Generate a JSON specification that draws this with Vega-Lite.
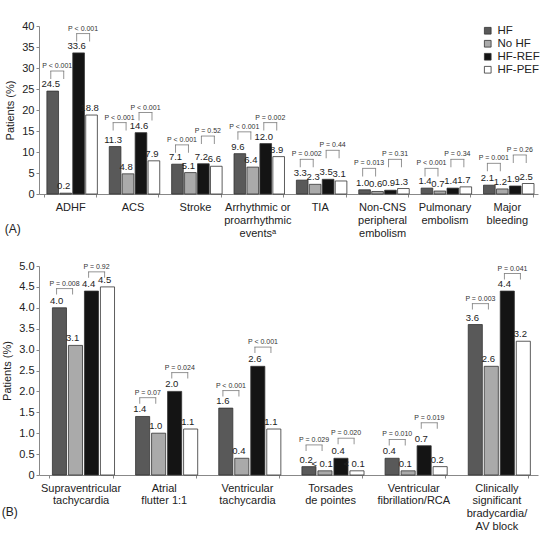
{
  "$schema": "https://vega.github.io/schema/vega-lite/v6.json",
  "padding": {"left": 1, "top": 20, "right": 2, "bottom": 0},
  "spacing": 22,
  "datasets": {
    "barsA": [
      {"cat": "ADHF", "group": "HF", "pct": 24.5, "label": "24.5"},
      {"cat": "ADHF", "group": "No HF", "pct": 0.2, "label": "0.2"},
      {"cat": "ADHF", "group": "HF-REF", "pct": 33.6, "label": "33.6"},
      {"cat": "ADHF", "group": "HF-PEF", "pct": 18.8, "label": "18.8"},
      {"cat": "ACS", "group": "HF", "pct": 11.3, "label": "11.3"},
      {"cat": "ACS", "group": "No HF", "pct": 4.8, "label": "4.8"},
      {"cat": "ACS", "group": "HF-REF", "pct": 14.6, "label": "14.6"},
      {"cat": "ACS", "group": "HF-PEF", "pct": 7.9, "label": "7.9"},
      {"cat": "Stroke", "group": "HF", "pct": 7.1, "label": "7.1"},
      {"cat": "Stroke", "group": "No HF", "pct": 5.1, "label": "5.1"},
      {"cat": "Stroke", "group": "HF-REF", "pct": 7.2, "label": "7.2"},
      {"cat": "Stroke", "group": "HF-PEF", "pct": 6.6, "label": "6.6"},
      {"cat": "Arrhythmic or|proarrhythmic|eventsᵃ", "group": "HF", "pct": 9.6, "label": "9.6"},
      {"cat": "Arrhythmic or|proarrhythmic|eventsᵃ", "group": "No HF", "pct": 6.4, "label": "6.4"},
      {"cat": "Arrhythmic or|proarrhythmic|eventsᵃ", "group": "HF-REF", "pct": 12.0, "label": "12.0"},
      {"cat": "Arrhythmic or|proarrhythmic|eventsᵃ", "group": "HF-PEF", "pct": 8.9, "label": "8.9"},
      {"cat": "TIA", "group": "HF", "pct": 3.3, "label": "3.3"},
      {"cat": "TIA", "group": "No HF", "pct": 2.3, "label": "2.3"},
      {"cat": "TIA", "group": "HF-REF", "pct": 3.5, "label": "3.5"},
      {"cat": "TIA", "group": "HF-PEF", "pct": 3.1, "label": "3.1"},
      {"cat": "Non-CNS|peripheral|embolism", "group": "HF", "pct": 1.0, "label": "1.0"},
      {"cat": "Non-CNS|peripheral|embolism", "group": "No HF", "pct": 0.6, "label": "0.6"},
      {"cat": "Non-CNS|peripheral|embolism", "group": "HF-REF", "pct": 0.9, "label": "0.9"},
      {"cat": "Non-CNS|peripheral|embolism", "group": "HF-PEF", "pct": 1.3, "label": "1.3"},
      {"cat": "Pulmonary|embolism", "group": "HF", "pct": 1.4, "label": "1.4"},
      {"cat": "Pulmonary|embolism", "group": "No HF", "pct": 0.7, "label": "0.7"},
      {"cat": "Pulmonary|embolism", "group": "HF-REF", "pct": 1.4, "label": "1.4"},
      {"cat": "Pulmonary|embolism", "group": "HF-PEF", "pct": 1.7, "label": "1.7"},
      {"cat": "Major|bleeding", "group": "HF", "pct": 2.1, "label": "2.1"},
      {"cat": "Major|bleeding", "group": "No HF", "pct": 1.2, "label": "1.2"},
      {"cat": "Major|bleeding", "group": "HF-REF", "pct": 1.9, "label": "1.9"},
      {"cat": "Major|bleeding", "group": "HF-PEF", "pct": 2.5, "label": "2.5"}
    ],
    "bracketsA": [
      {"cat": "ADHF", "from": "HF", "to": "No HF", "pct": 29.3, "p": "P < 0.001"},
      {"cat": "ADHF", "from": "HF-REF", "to": "HF-PEF", "pct": 38.2, "p": "P < 0.001"},
      {"cat": "ACS", "from": "HF", "to": "No HF", "pct": 17.0, "p": "P < 0.001"},
      {"cat": "ACS", "from": "HF-REF", "to": "HF-PEF", "pct": 19.4, "p": "P < 0.001"},
      {"cat": "Stroke", "from": "HF", "to": "No HF", "pct": 11.7, "p": "P < 0.001"},
      {"cat": "Stroke", "from": "HF-REF", "to": "HF-PEF", "pct": 13.8, "p": "P = 0.52"},
      {"cat": "Arrhythmic or|proarrhythmic|eventsᵃ", "from": "HF", "to": "No HF", "pct": 14.8, "p": "P < 0.001"},
      {"cat": "Arrhythmic or|proarrhythmic|eventsᵃ", "from": "HF-REF", "to": "HF-PEF", "pct": 17.0, "p": "P = 0.002"},
      {"cat": "TIA", "from": "HF", "to": "No HF", "pct": 8.25, "p": "P = 0.002"},
      {"cat": "TIA", "from": "HF-REF", "to": "HF-PEF", "pct": 10.4, "p": "P = 0.44"},
      {"cat": "Non-CNS|peripheral|embolism", "from": "HF", "to": "No HF", "pct": 6.1, "p": "P = 0.013"},
      {"cat": "Non-CNS|peripheral|embolism", "from": "HF-REF", "to": "HF-PEF", "pct": 8.25, "p": "P = 0.31"},
      {"cat": "Pulmonary|embolism", "from": "HF", "to": "No HF", "pct": 6.1, "p": "P < 0.001"},
      {"cat": "Pulmonary|embolism", "from": "HF-REF", "to": "HF-PEF", "pct": 8.25, "p": "P = 0.34"},
      {"cat": "Major|bleeding", "from": "HF", "to": "No HF", "pct": 7.3, "p": "P = 0.001"},
      {"cat": "Major|bleeding", "from": "HF-REF", "to": "HF-PEF", "pct": 9.3, "p": "P = 0.26"}
    ],
    "barsB": [
      {"cat": "Supraventricular|tachycardia", "group": "HF", "pct": 4.0, "label": "4.0"},
      {"cat": "Supraventricular|tachycardia", "group": "No HF", "pct": 3.1, "label": "3.1"},
      {"cat": "Supraventricular|tachycardia", "group": "HF-REF", "pct": 4.4, "label": "4.4"},
      {"cat": "Supraventricular|tachycardia", "group": "HF-PEF", "pct": 4.5, "label": "4.5"},
      {"cat": "Atrial|flutter 1:1", "group": "HF", "pct": 1.4, "label": "1.4"},
      {"cat": "Atrial|flutter 1:1", "group": "No HF", "pct": 1.0, "label": "1.0"},
      {"cat": "Atrial|flutter 1:1", "group": "HF-REF", "pct": 2.0, "label": "2.0"},
      {"cat": "Atrial|flutter 1:1", "group": "HF-PEF", "pct": 1.1, "label": "1.1"},
      {"cat": "Ventricular|tachycardia", "group": "HF", "pct": 1.6, "label": "1.6"},
      {"cat": "Ventricular|tachycardia", "group": "No HF", "pct": 0.4, "label": "0.4"},
      {"cat": "Ventricular|tachycardia", "group": "HF-REF", "pct": 2.6, "label": "2.6"},
      {"cat": "Ventricular|tachycardia", "group": "HF-PEF", "pct": 1.1, "label": "1.1"},
      {"cat": "Torsades|de pointes", "group": "HF", "pct": 0.2, "label": "0.2"},
      {"cat": "Torsades|de pointes", "group": "No HF", "pct": 0.1, "label": "< 0.1"},
      {"cat": "Torsades|de pointes", "group": "HF-REF", "pct": 0.4, "label": "0.4"},
      {"cat": "Torsades|de pointes", "group": "HF-PEF", "pct": 0.1, "label": "< 0.1"},
      {"cat": "Ventricular|fibrillation/RCA", "group": "HF", "pct": 0.4, "label": "0.4"},
      {"cat": "Ventricular|fibrillation/RCA", "group": "No HF", "pct": 0.1, "label": "0.1"},
      {"cat": "Ventricular|fibrillation/RCA", "group": "HF-REF", "pct": 0.7, "label": "0.7"},
      {"cat": "Ventricular|fibrillation/RCA", "group": "HF-PEF", "pct": 0.2, "label": "0.2"},
      {"cat": "Clinically|significant|bradycardia/|AV block", "group": "HF", "pct": 3.6, "label": "3.6"},
      {"cat": "Clinically|significant|bradycardia/|AV block", "group": "No HF", "pct": 2.6, "label": "2.6"},
      {"cat": "Clinically|significant|bradycardia/|AV block", "group": "HF-REF", "pct": 4.4, "label": "4.4"},
      {"cat": "Clinically|significant|bradycardia/|AV block", "group": "HF-PEF", "pct": 3.2, "label": "3.2"}
    ],
    "bracketsB": [
      {"cat": "Supraventricular|tachycardia", "from": "HF", "to": "No HF", "pct": 4.46, "p": "P = 0.008"},
      {"cat": "Supraventricular|tachycardia", "from": "HF-REF", "to": "HF-PEF", "pct": 4.86, "p": "P = 0.92"},
      {"cat": "Atrial|flutter 1:1", "from": "HF", "to": "No HF", "pct": 1.85, "p": "P = 0.07"},
      {"cat": "Atrial|flutter 1:1", "from": "HF-REF", "to": "HF-PEF", "pct": 2.45, "p": "P = 0.024"},
      {"cat": "Ventricular|tachycardia", "from": "HF", "to": "No HF", "pct": 2.02, "p": "P < 0.001"},
      {"cat": "Ventricular|tachycardia", "from": "HF-REF", "to": "HF-PEF", "pct": 3.06, "p": "P < 0.001"},
      {"cat": "Torsades|de pointes", "from": "HF", "to": "No HF", "pct": 0.72, "p": "P = 0.029"},
      {"cat": "Torsades|de pointes", "from": "HF-REF", "to": "HF-PEF", "pct": 0.88, "p": "P = 0.020"},
      {"cat": "Ventricular|fibrillation/RCA", "from": "HF", "to": "No HF", "pct": 0.85, "p": "P = 0.010"},
      {"cat": "Ventricular|fibrillation/RCA", "from": "HF-REF", "to": "HF-PEF", "pct": 1.25, "p": "P = 0.019"},
      {"cat": "Clinically|significant|bradycardia/|AV block", "from": "HF", "to": "No HF", "pct": 4.10, "p": "P = 0.003"},
      {"cat": "Clinically|significant|bradycardia/|AV block", "from": "HF-REF", "to": "HF-PEF", "pct": 4.82, "p": "P = 0.041"}
    ]
  },
  "resolve": {"scale": {"color": "independent", "x": "independent", "y": "independent", "xOffset": "independent"}},
  "vconcat": [
    {
      "width": 499,
      "height": 168,
      "title": {"text": "(A)", "orient": "bottom", "anchor": "start", "frame": "bounds", "offset": -14, "fontSize": 12, "fontWeight": "normal", "color": "#222"},
      "encoding": {
        "x": {"field": "cat", "type": "nominal",
          "scale": {"domain": ["ADHF", "ACS", "Stroke", "Arrhythmic or|proarrhythmic|eventsᵃ", "TIA", "Non-CNS|peripheral|embolism", "Pulmonary|embolism", "Major|bleeding"], "paddingInner": 0.17, "paddingOuter": 0.085},
          "axis": {"title": null, "labelAngle": 0, "labelExpr": "split(datum.label, '|')", "labelFontSize": 11, "labelLineHeight": 13, "tickBand": "extent", "labelPadding": 4, "tickSize": 3, "domain": true}
        },
        "y": {"field": "pct", "type": "quantitative", "scale": {"domain": [0, 40]},
          "axis": {"title": "Patients (%)", "values": [0, 5, 10, 15, 20, 25, 30, 35, 40], "tickSize": 3, "labelPadding": 2, "titlePadding": 6, "domain": true}}
      },
      "layer": [
        {
          "data": {"name": "barsA"},
          "mark": {"type": "bar", "width": {"band": 0.9}, "stroke": "#333", "strokeWidth": 0.8},
          "encoding": {
            "xOffset": {"field": "group", "type": "nominal", "scale": {"domain": ["HF", "No HF", "HF-REF", "HF-PEF"], "paddingInner": 0, "paddingOuter": 0}},
            "color": {"field": "group", "type": "nominal",
              "scale": {"domain": ["HF", "No HF", "HF-REF", "HF-PEF"], "range": ["#595959", "#aaaaaa", "#141414", "#ffffff"]},
              "legend": {"orient": "none", "legendX": 443, "legendY": -1, "padding": 0, "title": null, "symbolType": "square", "symbolSize": 45, "labelFontSize": 11.5, "rowPadding": 0, "symbolStrokeColor": "#333", "symbolStrokeWidth": 0.8, "labelColor": "#222", "labelOffset": 4}}
          }
        },
        {
          "data": {"name": "barsA"},
          "mark": {"type": "text", "baseline": "bottom", "dy": -2, "fontSize": 9.5, "color": "#222"},
          "encoding": {
            "xOffset": {"field": "group", "type": "nominal"},
            "text": {"field": "label"}
          }
        },
        {
          "data": {"name": "bracketsA"},
          "mark": {"type": "tick", "orient": "vertical", "size": 8, "thickness": 1, "yOffset": 4, "color": "#666"},
          "encoding": {"xOffset": {"field": "from", "type": "nominal"}}
        },
        {
          "data": {"name": "bracketsA"},
          "mark": {"type": "tick", "orient": "vertical", "size": 8, "thickness": 1, "yOffset": 4, "color": "#666"},
          "encoding": {"xOffset": {"field": "to", "type": "nominal"}}
        },
        {
          "data": {"name": "bracketsA"},
          "transform": [{"filter": "datum.from == 'HF'"}],
          "mark": {"type": "tick", "orient": "horizontal", "size": 13.9, "thickness": 1, "color": "#666"},
          "encoding": {"xOffset": {"value": 12.94}}
        },
        {
          "data": {"name": "bracketsA"},
          "transform": [{"filter": "datum.from == 'HF-REF'"}],
          "mark": {"type": "tick", "orient": "horizontal", "size": 13.9, "thickness": 1, "color": "#666"},
          "encoding": {"xOffset": {"value": 38.83}}
        },
        {
          "data": {"name": "bracketsA"},
          "mark": {"type": "text", "baseline": "bottom", "dy": -2, "dx": 6.47, "fontSize": 7, "color": "#333"},
          "encoding": {
            "xOffset": {"field": "from", "type": "nominal"},
            "text": {"field": "p"}
          }
        }
      ]
    },
    {
      "width": 499,
      "height": 209,
      "title": {"text": "(B)", "orient": "bottom", "anchor": "start", "frame": "bounds", "offset": -24, "fontSize": 12, "fontWeight": "normal", "color": "#222"},
      "encoding": {
        "x": {"field": "cat", "type": "nominal",
          "scale": {"domain": ["Supraventricular|tachycardia", "Atrial|flutter 1:1", "Ventricular|tachycardia", "Torsades|de pointes", "Ventricular|fibrillation/RCA", "Clinically|significant|bradycardia/|AV block"], "paddingInner": 0.23, "paddingOuter": 0.115},
          "axis": {"title": null, "labelAngle": 0, "labelExpr": "split(datum.label, '|')", "labelFontSize": 11, "labelLineHeight": 12.8, "tickBand": "extent", "labelPadding": 4, "tickSize": 3, "domain": true}
        },
        "y": {"field": "pct", "type": "quantitative", "scale": {"domain": [0, 5]},
          "axis": {"title": "Patients (%)", "values": [0, 0.5, 1, 1.5, 2, 2.5, 3, 3.5, 4, 4.5, 5], "labelExpr": "datum.value == 0 ? '0' : format(datum.value, '.1f')", "tickSize": 3, "labelPadding": 2, "titlePadding": 6, "domain": true}}
      },
      "layer": [
        {
          "data": {"name": "barsB"},
          "mark": {"type": "bar", "width": {"band": 0.88}, "stroke": "#333", "strokeWidth": 0.8},
          "encoding": {
            "xOffset": {"field": "group", "type": "nominal", "scale": {"domain": ["HF", "No HF", "HF-REF", "HF-PEF"], "paddingInner": 0, "paddingOuter": 0}},
            "color": {"field": "group", "type": "nominal",
              "scale": {"domain": ["HF", "No HF", "HF-REF", "HF-PEF"], "range": ["#595959", "#aaaaaa", "#141414", "#ffffff"]},
              "legend": null}
          }
        },
        {
          "data": {"name": "barsB"},
          "mark": {"type": "text", "baseline": "bottom", "dy": -2, "fontSize": 9.5, "color": "#222"},
          "encoding": {
            "xOffset": {"field": "group", "type": "nominal"},
            "text": {"field": "label"}
          }
        },
        {
          "data": {"name": "bracketsB"},
          "mark": {"type": "tick", "orient": "vertical", "size": 6, "thickness": 1, "yOffset": 3, "color": "#666"},
          "encoding": {"xOffset": {"field": "from", "type": "nominal"}}
        },
        {
          "data": {"name": "bracketsB"},
          "mark": {"type": "tick", "orient": "vertical", "size": 6, "thickness": 1, "yOffset": 3, "color": "#666"},
          "encoding": {"xOffset": {"field": "to", "type": "nominal"}}
        },
        {
          "data": {"name": "bracketsB"},
          "transform": [{"filter": "datum.from == 'HF'"}],
          "mark": {"type": "tick", "orient": "horizontal", "size": 17, "thickness": 1, "color": "#666"},
          "encoding": {"xOffset": {"value": 16.0}}
        },
        {
          "data": {"name": "bracketsB"},
          "transform": [{"filter": "datum.from == 'HF-REF'"}],
          "mark": {"type": "tick", "orient": "horizontal", "size": 17, "thickness": 1, "color": "#666"},
          "encoding": {"xOffset": {"value": 48.03}}
        },
        {
          "data": {"name": "bracketsB"},
          "mark": {"type": "text", "baseline": "bottom", "dy": -2, "dx": 8, "fontSize": 7, "color": "#333"},
          "encoding": {
            "xOffset": {"field": "from", "type": "nominal"},
            "text": {"field": "p"}
          }
        }
      ]
    }
  ],
  "config": {
    "font": "Liberation Sans",
    "view": {"stroke": null},
    "axis": {"grid": false, "domainColor": "#888", "tickColor": "#888", "labelColor": "#222", "labelFontSize": 11, "titleFontSize": 11, "titleFontWeight": "normal", "titleColor": "#222"}
  }
}
